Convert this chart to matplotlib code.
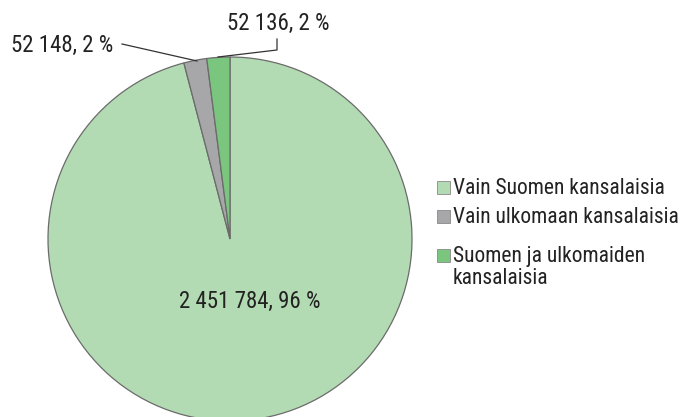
import matplotlib
matplotlib.use("Agg")
import matplotlib.pyplot as plt
from matplotlib.patches import Rectangle

# data
labels = ["Vain Suomen kansalaisia", "Vain ulkomaan kansalaisia",
          "Suomen ja ulkomaiden\nkansalaisia"]
values = [2451784, 52148, 52136]
value_texts = ["2 451 784, 96 %", "52 148, 2 %", "52 136, 2 %"]
colors = ["#b3dbb3", "#a7a7aa", "#7bc67e"]

plt.rcParams['font.family'] = ['Roboto Condensed', 'Lato', 'DejaVu Sans']

W, H = 682, 417
fig = plt.figure(figsize=(W / 100, H / 100), dpi=100)
ax = fig.add_axes([0, 0, 1, 1])

cx, cy, r = 230, H - 239, 182  # pie centre / radius in pixels
wedges, _ = ax.pie(values, colors=colors, startangle=90, counterclock=False,
                   center=(cx, cy), radius=r,
                   wedgeprops=dict(edgecolor="#6b6b6b", linewidth=0.9))
ax.set_xlim(0, W)
ax.set_ylim(0, H)
ax.set_aspect('equal')
ax.axis('off')

tc = "#222222"
fs = 16.5
# big slice label
ax.text(250, H - 308, value_texts[0], ha='center', va='baseline', fontsize=fs, color=tc)
# gray slice label with leader line
ax.text(62, H - 52, value_texts[1], ha='center', va='baseline', fontsize=fs, color=tc)
ax.plot([122, 197], [H - 44, H - 61], color="#333333", lw=0.9)
# green slice label with leader line
ax.text(278, H - 30, value_texts[2], ha='center', va='baseline', fontsize=fs, color=tc)
ax.plot([277, 277, 218], [H - 39, H - 50, H - 57], color="#333333", lw=0.9)

# legend, drawn by hand so the square sits on the first text line
baselines = [194, 223, 262]
for lab, col, b in zip(labels, colors, baselines):
    ax.add_patch(Rectangle((437, H - b), 13, 13, facecolor=col,
                           edgecolor="#888888", lw=0.6))
    for k, line in enumerate(lab.split("\n")):
        ax.text(453, H - b - 22 * k, line, ha='left', va='baseline',
                fontsize=15.5, color=tc)

fig.savefig("out.png", dpi=100)
